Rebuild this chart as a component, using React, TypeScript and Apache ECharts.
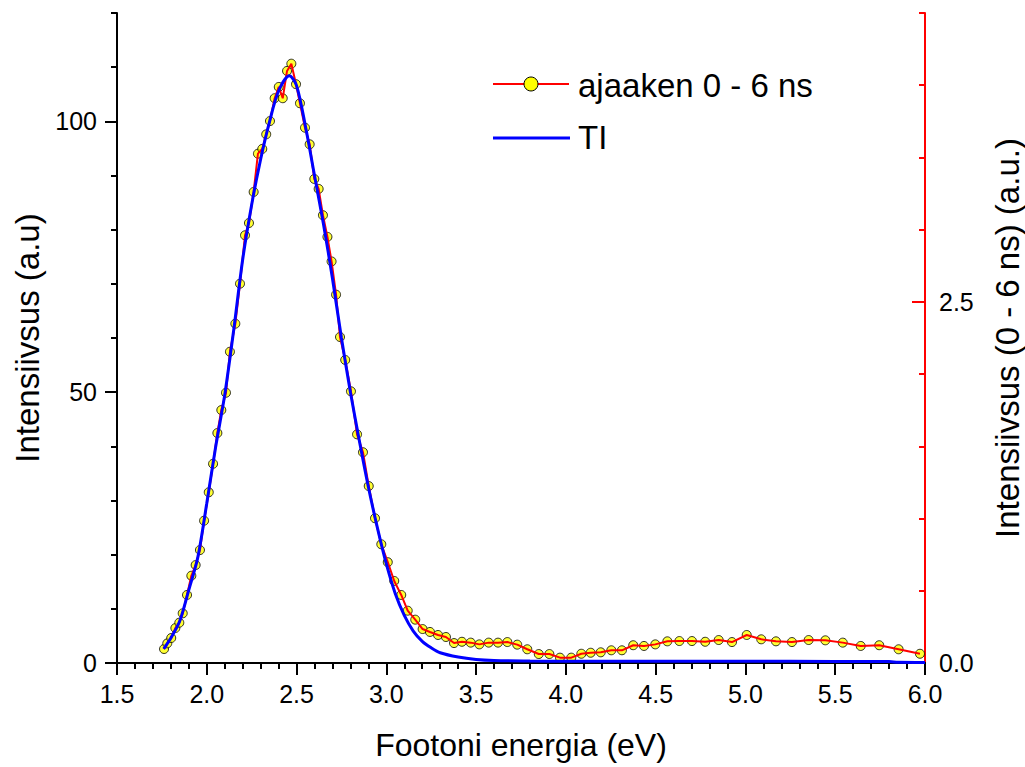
import React, { useEffect, useRef } from "react";
import * as echarts from "echarts";

// Photon energy (eV) of measured points, time window 0 - 6 ns
const energy = [
  1.762, 1.78, 1.802, 1.825, 1.847, 1.866, 1.89, 1.914, 1.938, 1.962,
  1.985, 2.011, 2.035, 2.059, 2.081, 2.107, 2.129, 2.159, 2.185, 2.213,
  2.235, 2.261, 2.285, 2.309, 2.331, 2.352, 2.378, 2.401, 2.423, 2.447,
  2.471, 2.497, 2.519, 2.547, 2.573, 2.599, 2.623, 2.647, 2.672, 2.695,
  2.72, 2.742, 2.771, 2.803, 2.837, 2.87, 2.902, 2.937, 2.972, 3.008,
  3.044, 3.083, 3.119, 3.161, 3.202, 3.243, 3.288, 3.332, 3.377, 3.421,
  3.47, 3.518, 3.57, 3.622, 3.674, 3.729, 3.785, 3.849, 3.908, 3.967,
  4.03, 4.086, 4.138, 4.194, 4.253, 4.312, 4.375, 4.435, 4.498, 4.565,
  4.632, 4.702, 4.776, 4.851, 4.925, 5.007, 5.088, 5.17, 5.259, 5.352,
  5.445, 5.542, 5.642, 5.745, 5.853, 5.972,
];
// Intensity (0 - 6 ns), right axis units
const intensity06 = [
  0.097, 0.136, 0.173, 0.242, 0.279, 0.344, 0.471, 0.604, 0.678, 0.782,
  0.985, 1.182, 1.379, 1.592, 1.751, 1.871, 2.155, 2.349, 2.626, 2.961,
  3.046, 3.261, 3.526, 3.559, 3.66, 3.752, 3.91, 3.988, 3.91, 4.099,
  4.149, 4.007, 3.875, 3.706, 3.591, 3.351, 3.282, 3.1, 2.95, 2.78,
  2.55, 2.257, 2.098, 1.881, 1.583, 1.459, 1.225, 1.002, 0.822, 0.698,
  0.568, 0.471, 0.362, 0.3, 0.235, 0.215, 0.194, 0.18, 0.138, 0.147,
  0.141, 0.129, 0.141, 0.141, 0.145, 0.127, 0.095, 0.062, 0.062, 0.037,
  0.037, 0.064, 0.071, 0.074, 0.088, 0.088, 0.123, 0.118, 0.129, 0.15,
  0.152, 0.152, 0.147, 0.159, 0.145, 0.194, 0.164, 0.15, 0.145, 0.159,
  0.157, 0.141, 0.118, 0.123, 0.095, 0.064,
];
// TI curve, left axis units
const tiEnergy = [
  1.76, 1.8, 1.85, 1.9, 1.95, 2.0, 2.05, 2.1, 2.15, 2.2, 2.25, 2.3, 2.35,
  2.4, 2.46, 2.5, 2.55, 2.6, 2.65, 2.7, 2.75, 2.8, 2.85, 2.9, 2.95, 3.0,
  3.05, 3.1, 3.15, 3.2, 3.25, 3.3, 3.4, 3.5, 3.6, 3.8, 4.0, 4.5, 5.0, 5.5,
  5.8, 5.85, 6.0,
];
const tiIntensity = [
  2.6, 4.6, 7.8, 13.5, 19.5, 29.5, 40.0, 49.5, 61.5, 74.5, 84.6, 93.0, 100.0,
  105.6, 108.4, 106.6, 99.0, 90.0, 81.0, 71.0, 60.0, 50.0, 41.0, 32.5, 25.0,
  18.3, 12.8, 8.8, 5.9, 4.0, 2.8, 1.9, 1.1, 0.65, 0.46, 0.37, 0.33, 0.31,
  0.31, 0.3, 0.28, 0.13, 0.1,
];
const leftTicks = [0, 50, 100];
const rightTicks = [0, 2.5];

const FONT = '"Liberation Sans", Arial, sans-serif';

export default function App() {
  const ref = useRef<HTMLDivElement>(null);
  useEffect(() => {
    if (!ref.current) return;
    const chart = echarts.init(ref.current, undefined, { renderer: "svg" });
    const xBase = {
      type: "value",
      min: 1.5,
      max: 6,
      interval: 0.5,
      splitLine: { show: false },
      axisLine: { lineStyle: { color: "#000", width: 2 } },
      minorTick: { show: true, splitNumber: 5, length: 6, lineStyle: { color: "#000", width: 2 } },
    };
    chart.setOption({
      animation: false,
      backgroundColor: "#fff",
      textStyle: { fontFamily: FONT },
      grid: { left: 117, right: 100, top: 13, bottom: 104, containLabel: false, outerBoundsMode: "none" },
      xAxis: [
        {
          ...xBase,
          position: "bottom",
          name: "Footoni energia (eV)",
          nameLocation: "middle",
          nameGap: 66,
          nameTextStyle: { fontSize: 32, color: "#000", fontFamily: FONT },
          axisTick: { length: 12, lineStyle: { color: "#000", width: 2 } },
          axisLabel: { fontSize: 25, color: "#000", margin: 18, fontFamily: FONT, formatter: (v: number) => v.toFixed(1) },
        },
        {
          ...xBase,
          position: "top",
          axisTick: { inside: true, length: 12, lineStyle: { color: "#000", width: 2 } },
          axisLabel: { show: false },
        },
      ],
      yAxis: [
        {
          type: "value",
          position: "left",
          min: 0,
          max: 120,
          interval: 50,
          splitLine: { show: false },
          axisLine: { show: true, lineStyle: { color: "#000", width: 2 } },
          axisTick: { show: true, length: 12, customValues: leftTicks, lineStyle: { color: "#000", width: 2 } },
          axisLabel: { fontSize: 25, color: "#000", margin: 20, fontFamily: FONT, customValues: leftTicks },
          name: "Intensiivsus (a.u)",
          nameLocation: "middle",
          nameRotate: 90,
          nameGap: 72,
          nameTextStyle: { fontSize: 33, color: "#000", fontFamily: FONT },
        },
        {
          type: "value",
          position: "left",
          min: 0,
          max: 120,
          interval: 10,
          splitLine: { show: false },
          axisLine: { show: false },
          axisTick: { show: true, length: 6, lineStyle: { color: "#000", width: 2 } },
          axisLabel: { show: false },
        },
        {
          type: "value",
          position: "right",
          min: 0,
          max: 4.5,
          interval: 2.5,
          splitLine: { show: false },
          axisLine: { show: true, lineStyle: { color: "#ff0000", width: 2 } },
          axisTick: { show: true, inside: true, length: 13, customValues: rightTicks, lineStyle: { color: "#ff0000", width: 2 } },
          axisLabel: {
            fontSize: 25,
            color: "#000",
            margin: 14,
            fontFamily: FONT,
            customValues: rightTicks,
            formatter: (v: number) => v.toFixed(1),
          },
          name: "Intensiivsus (0 - 6 ns) (a.u.)",
          nameLocation: "middle",
          nameRotate: 90,
          nameGap: 66,
          nameTextStyle: { fontSize: 33, color: "#000", fontFamily: FONT },
        },
        {
          type: "value",
          position: "right",
          min: 0,
          max: 4.5,
          interval: 0.5,
          splitLine: { show: false },
          axisLine: { show: false },
          axisTick: { show: true, inside: true, length: 6, lineStyle: { color: "#ff0000", width: 2 } },
          axisLabel: { show: false },
        },
      ],
      series: [
        {
          name: "ajaaken 0 - 6 ns",
          type: "line",
          xAxisIndex: 0,
          yAxisIndex: 2,
          data: energy.map((e, i) => [e, intensity06[i]]),
          showSymbol: false,
          lineStyle: { color: "#ff0000", width: 2 },
          itemStyle: { color: "#ff0000" },
        },
        {
          name: "TI",
          type: "line",
          xAxisIndex: 0,
          yAxisIndex: 0,
          data: tiEnergy.map((e, i) => [e, tiIntensity[i]]),
          showSymbol: false,
          smooth: 0.3,
          lineStyle: { color: "#0000ff", width: 3 },
          itemStyle: { color: "#0000ff" },
        },
        {
          name: "ajaaken 0 - 6 ns points",
          type: "scatter",
          xAxisIndex: 0,
          yAxisIndex: 2,
          data: energy.map((e, i) => [e, intensity06[i]]),
          symbol: "circle",
          symbolSize: 9,
          itemStyle: { color: "#ffff00", borderColor: "#000", borderWidth: 1 },
        },
      ],
      graphic: [
        { type: "line", shape: { x1: 493, y1: 84, x2: 569, y2: 84 }, style: { stroke: "#ff0000", lineWidth: 2 } },
        { type: "circle", shape: { cx: 531, cy: 84, r: 7 }, style: { fill: "#ffff00", stroke: "#000", lineWidth: 1 } },
        {
          type: "text",
          x: 578,
          y: 85,
          style: { text: "ajaaken 0 - 6 ns", fontSize: 33, fontFamily: FONT, fill: "#000", verticalAlign: "middle" },
        },
        { type: "line", shape: { x1: 493, y1: 138, x2: 570, y2: 138 }, style: { stroke: "#0000ff", lineWidth: 3 } },
        {
          type: "text",
          x: 578,
          y: 137,
          style: { text: "TI", fontSize: 33, fontFamily: FONT, fill: "#000", verticalAlign: "middle" },
        },
      ],
    });
    return () => chart.dispose();
  }, []);
  return (
    <div
      ref={ref}
      style={{ position: "fixed", left: 0, top: 0, width: 1025, height: 767, background: "#fff" }}
    />
  );
}
